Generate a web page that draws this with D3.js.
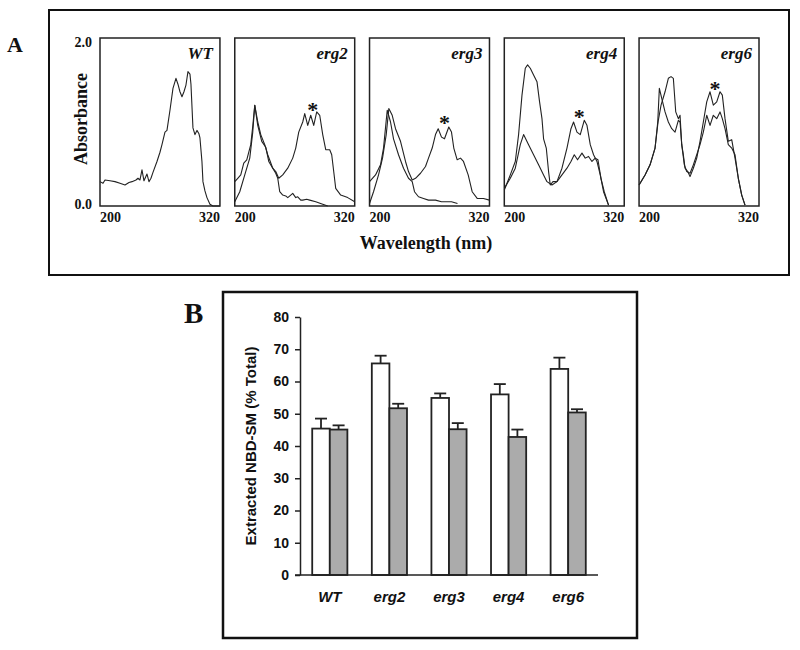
<!DOCTYPE html>
<html><head><meta charset="utf-8">
<script src="https://cdn.jsdelivr.net/npm/d3@7"></script>
<style>body{margin:0;background:#fff}svg{display:block}</style>
</head><body>
<svg id="c" width="800" height="650"></svg>
<script>
// ---------- Panel A data (wavelength nm, absorbance) ----------
const panelNames = ["WT","erg2","erg3","erg4","erg6"];
const wtSpec = [[200,.29],[203,.27],[205,.31],[210,.30],[215,.29],[220,.27],[225,.25],[229,.28],[232,.29],[236,.31],[238,.33],[240,.31],[242,.43],[244,.30],[247,.38],[249,.29],[251,.33],[253,.40],[257,.53],[260,.64],[262,.73],[265,.88],[267,.90],[270,1.14],[273,1.40],[276,1.52],[278,1.45],[280,1.36],[282,1.30],[284,1.36],[286,1.44],[288,1.60],[290,1.57],[291,1.45],[293,.93],[295,.85],[297,.90],[299,.86],[300,.81],[302,.53],[303,.29],[305,.18],[307,.10],[310,.02],[313,0],[320,0]];
const erg2SpecA = [[200,.05],[205,.17],[210,.37],[215,.57],[218,.88],[220,1.2],[223,1.0],[226,.85],[230,.73],[233,.61],[238,.45],[241,.39],[243,.33],[245,.17],[248,.13],[251,.12],[253,.10],[256,.13],[258,.15],[261,.10],[263,.11],[266,.07],[268,.07],[272,.08],[275,.07],[281,.05],[288,.02],[293,0]];
const erg2SpecB = [[200,.29],[203,.33],[206,.37],[209,.51],[212,.55],[216,.73],[218,.95],[220,1.2],[223,.96],[227,.77],[231,.70],[234,.53],[238,.45],[241,.41],[244,.33],[248,.37],[253,.45],[258,.57],[261,.69],[264,.88],[268,1.0],[270,1.1],[273,.96],[276,1.08],[279,.96],[282,1.12],[285,1.08],[288,.85],[291,.67],[295,.67],[297,.61],[299,.41],[301,.21],[306,.13],[313,.10],[320,.05]];
const erg3SpecA = [[200,.29],[206,.37],[211,.49],[214,.69],[217.7,1.14],[221,1.0],[224,.80],[229,.61],[234,.45],[239,.33],[242.7,.29],[245,.17],[249,.11],[254,.09],[259,.07],[266,.07],[272,.05],[282,.05],[288,.03]];
const erg3SpecB = [[200,.03],[204,.17],[209,.37],[213,.57],[216.7,.85],[219.3,1.16],[222.7,1.08],[226,.92],[231,.77],[236,.53],[239,.41],[242.7,.31],[246,.33],[251,.39],[256,.47],[259,.57],[262.7,.69],[266,.85],[268.7,.92],[272,.82],[275,.80],[279.3,.94],[282,.88],[284.3,.69],[287.7,.55],[291,.57],[294,.53],[298.7,.37],[302.7,.17],[307.7,.09],[314,.09],[320,.07]];
const erg4SpecA = [[200,.19],[206,.37],[211,.53],[214.3,.85],[217.7,1.32],[221,1.64],[223.3,1.68],[226,1.64],[229.3,1.56],[232.7,1.48],[235.3,1.24],[237.7,1.04],[239.3,.80],[242,.69],[244.3,.41],[246,.25],[248.7,.29],[252.7,.29],[257.7,.45],[262.7,.69],[266.7,.92],[269.3,1.0],[272.7,.88],[276,.85],[280,1.02],[282.7,.96],[286,.73],[289.3,.61],[292.7,.53],[296,.37],[299.3,.17],[304.3,.01]];
const erg4SpecB = [[200,.21],[206,.33],[211,.45],[216,.73],[219.3,.85],[224.3,.73],[229.3,.61],[234.3,.49],[239.3,.37],[242.7,.29],[247.7,.25],[252.7,.29],[257.7,.37],[262.7,.45],[266.7,.53],[270,.61],[273.3,.55],[277.7,.63],[281,.57],[284.3,.59],[287.7,.53],[291,.57],[293.7,.55],[296.7,.33],[300,.17],[304.3,.01]];
const erg6SpecA = [[200,.25],[206,.37],[211,.49],[216,.69],[219,1.0],[222,1.2],[226,1.36],[229.3,1.52],[232,1.54],[234.3,1.52],[236.7,1.12],[239.3,1.04],[241,1.08],[242.7,.73],[244.3,.61],[246,.45],[248.7,.41],[251,.35],[254.3,.45],[257.7,.57],[261,.77],[264.3,1.0],[267.7,1.24],[271,1.36],[274.3,1.2],[277.7,1.24],[281,1.36],[283.3,1.32],[286,1.04],[289.3,.77],[292.7,.79],[296,.57],[299.3,.33],[302.7,.13],[306,.01]];
const erg6SpecB = [[200,.25],[206,.37],[211,.49],[216,.69],[218.7,1.0],[220.3,1.40],[222.7,1.28],[226,1.12],[229.3,1.0],[232.7,.92],[236,.88],[239.3,1.02],[241,1.0],[242.7,.73],[245.3,.49],[247.7,.41],[251,.39],[254.3,.49],[257.7,.61],[261,.73],[264.3,.88],[267.7,1.08],[271,.96],[274.3,1.08],[277.7,1.04],[281,1.12],[283.3,1.04],[286,.92],[289.3,.73],[292.7,.69],[296,.61],[299.3,.33],[302.7,.13],[306,.01]];
const panelSpectra = [[wtSpec],[erg2SpecA,erg2SpecB],[erg3SpecA,erg3SpecB],[erg4SpecA,erg4SpecB],[erg6SpecA,erg6SpecB]];
// asterisk marks [wavelength, absorbance] (null = none)
const starMarks = [null,[278,1.22],[275,1.06],[275,1.13],[276,1.47]];
const wlTicks = [200,320];
const absTicks = [0,2];

// ---------- Panel B data ----------
const strains = ["WT","erg2","erg3","erg4","erg6"];
const openValues = [45.4,65.6,54.9,56.0,63.9];
const openErr = [3.1,2.4,1.4,3.2,3.5];
const grayValues = [45.1,51.7,45.2,42.8,50.4];
const grayErr = [1.3,1.4,1.9,2.3,1.0];
const yTicksB = [0,10,20,30,40,50,60,70,80];

const svg = d3.select("#c");
const serif = "'Liberation Serif','Times New Roman',serif";
const sans = "'Liberation Sans',Arial,sans-serif";

// ===== Panel A =====
svg.append("rect").attr("x",49).attr("y",10).attr("width",740).attr("height",265)
  .attr("fill","none").attr("stroke","#111").attr("stroke-width",2);
svg.append("text").attr("x",7).attr("y",52).text("A")
  .attr("font-family",serif).attr("font-weight","bold").attr("font-size",22).attr("fill","#111");

const panelX = d3.scaleBand().domain(panelNames).range([100,759]).paddingInner(0.11);
const pw = panelX.bandwidth();
const yA = d3.scaleLinear().domain([0,2]).range([206,38]);
const line = (x)=>d3.line().x(d=>x(d[0])).y(d=>yA(d[1]));

panelNames.forEach((name,i)=>{
  const x0 = panelX(name);
  const x = d3.scaleLinear().domain([200,320]).range([x0,x0+pw]);
  const g = svg.append("g");
  panelSpectra[i].forEach(s=>{
    g.append("path").datum(s).attr("d",line(x)).attr("fill","none")
     .attr("stroke","#222").attr("stroke-width",1.1).attr("stroke-linejoin","round");
  });
  g.append("rect").attr("x",x0).attr("y",yA(2)).attr("width",pw).attr("height",yA(0)-yA(2))
   .attr("fill","none").attr("stroke","#222").attr("stroke-width",1.5);
  g.append("text").attr("x",x0+pw-7).attr("y",59).attr("text-anchor","end").text(name)
   .attr("font-family",serif).attr("font-weight","bold").attr("font-style","italic")
   .attr("font-size",17).attr("fill","#111");
  wlTicks.forEach((t,j)=>{
    g.append("text").attr("x",x(t)).attr("y",222).attr("text-anchor",j===0?"start":"end")
     .text(t).attr("font-family",serif).attr("font-weight","bold").attr("font-size",14).attr("fill","#111");
  });
  if(starMarks[i]){
    g.append("text").attr("x",x(starMarks[i][0])).attr("y",yA(starMarks[i][1])+13)
     .attr("text-anchor","middle").text("*")
     .attr("font-family",serif).attr("font-weight","bold").attr("font-size",22).attr("fill","#111");
  }
});
absTicks.forEach(t=>{
  svg.append("text").attr("x",92).attr("y",yA(t)+(t===0?3:9)).attr("text-anchor","end")
    .text(d3.format(".1f")(t)).attr("font-family",serif).attr("font-weight","bold")
    .attr("font-size",14).attr("fill","#111");
});
svg.append("text").attr("transform","translate(87,119) rotate(-90)").attr("text-anchor","middle")
  .text("Absorbance").attr("font-family",serif).attr("font-weight","bold").attr("font-size",18).attr("fill","#111");
svg.append("text").attr("x",426).attr("y",249).attr("text-anchor","middle")
  .text("Wavelength (nm)").attr("font-family",serif).attr("font-weight","bold").attr("font-size",18).attr("fill","#111");

// ===== Panel B =====
svg.append("rect").attr("x",223).attr("y",292).attr("width",414).attr("height",346)
  .attr("fill","none").attr("stroke","#111").attr("stroke-width",2.5);
svg.append("text").attr("x",184).attr("y",323).text("B")
  .attr("font-family",serif).attr("font-weight","bold").attr("font-size",29).attr("fill","#111");

const xB = d3.scaleBand().domain(strains).range([300,598]).paddingInner(0.41).paddingOuter(0.205);
const sub = d3.scaleBand().domain(["open","gray"]).range([0,xB.bandwidth()]);
const yB = d3.scaleLinear().domain([0,80]).range([575,317]);

const yAxis = d3.axisLeft(yB).tickValues(yTicksB).tickSize(5).tickSizeOuter(0).tickPadding(6);
const ga = svg.append("g").attr("transform","translate(300,0)").call(yAxis);
ga.select(".domain").attr("stroke","#222").attr("stroke-width",1.5);
ga.selectAll(".tick line").attr("stroke","#222").attr("stroke-width",1.5);
ga.selectAll(".tick text").attr("font-family",sans).attr("font-weight","bold").attr("font-size",14).attr("fill","#111");

const series = [
  {key:"open", vals:openValues, err:openErr, fill:"#ffffff"},
  {key:"gray", vals:grayValues, err:grayErr, fill:"#ababab"}
];
series.forEach(s=>{
  const g = svg.append("g");
  strains.forEach((c,i)=>{
    const bx = xB(c)+sub(s.key), bw = sub.bandwidth(), cx = bx+bw/2;
    const top = yB(s.vals[i]), et = yB(s.vals[i]+s.err[i]);
    g.append("line").attr("x1",cx).attr("x2",cx).attr("y1",top).attr("y2",et).attr("stroke","#222").attr("stroke-width",1.8);
    g.append("line").attr("x1",cx-6).attr("x2",cx+6).attr("y1",et).attr("y2",et).attr("stroke","#222").attr("stroke-width",1.8);
    g.append("rect").attr("x",bx).attr("y",top).attr("width",bw).attr("height",yB(0)-top)
     .attr("fill",s.fill).attr("stroke","#222").attr("stroke-width",1.8);
  });
});
svg.append("line").attr("x1",295).attr("x2",598).attr("y1",yB(0)).attr("y2",yB(0)).attr("stroke","#222").attr("stroke-width",1.5);

strains.forEach(c=>{
  svg.append("text").attr("x",xB(c)+xB.bandwidth()/2).attr("y",602).attr("text-anchor","middle").text(c)
   .attr("font-family",sans).attr("font-weight","bold").attr("font-style","italic").attr("font-size",15).attr("fill","#111");
});
svg.append("text").attr("transform","translate(256,446) rotate(-90)").attr("text-anchor","middle")
  .text("Extracted NBD-SM (% Total)").attr("font-family",sans).attr("font-weight","bold").attr("font-size",15).attr("fill","#111");
</script>
</body></html>
